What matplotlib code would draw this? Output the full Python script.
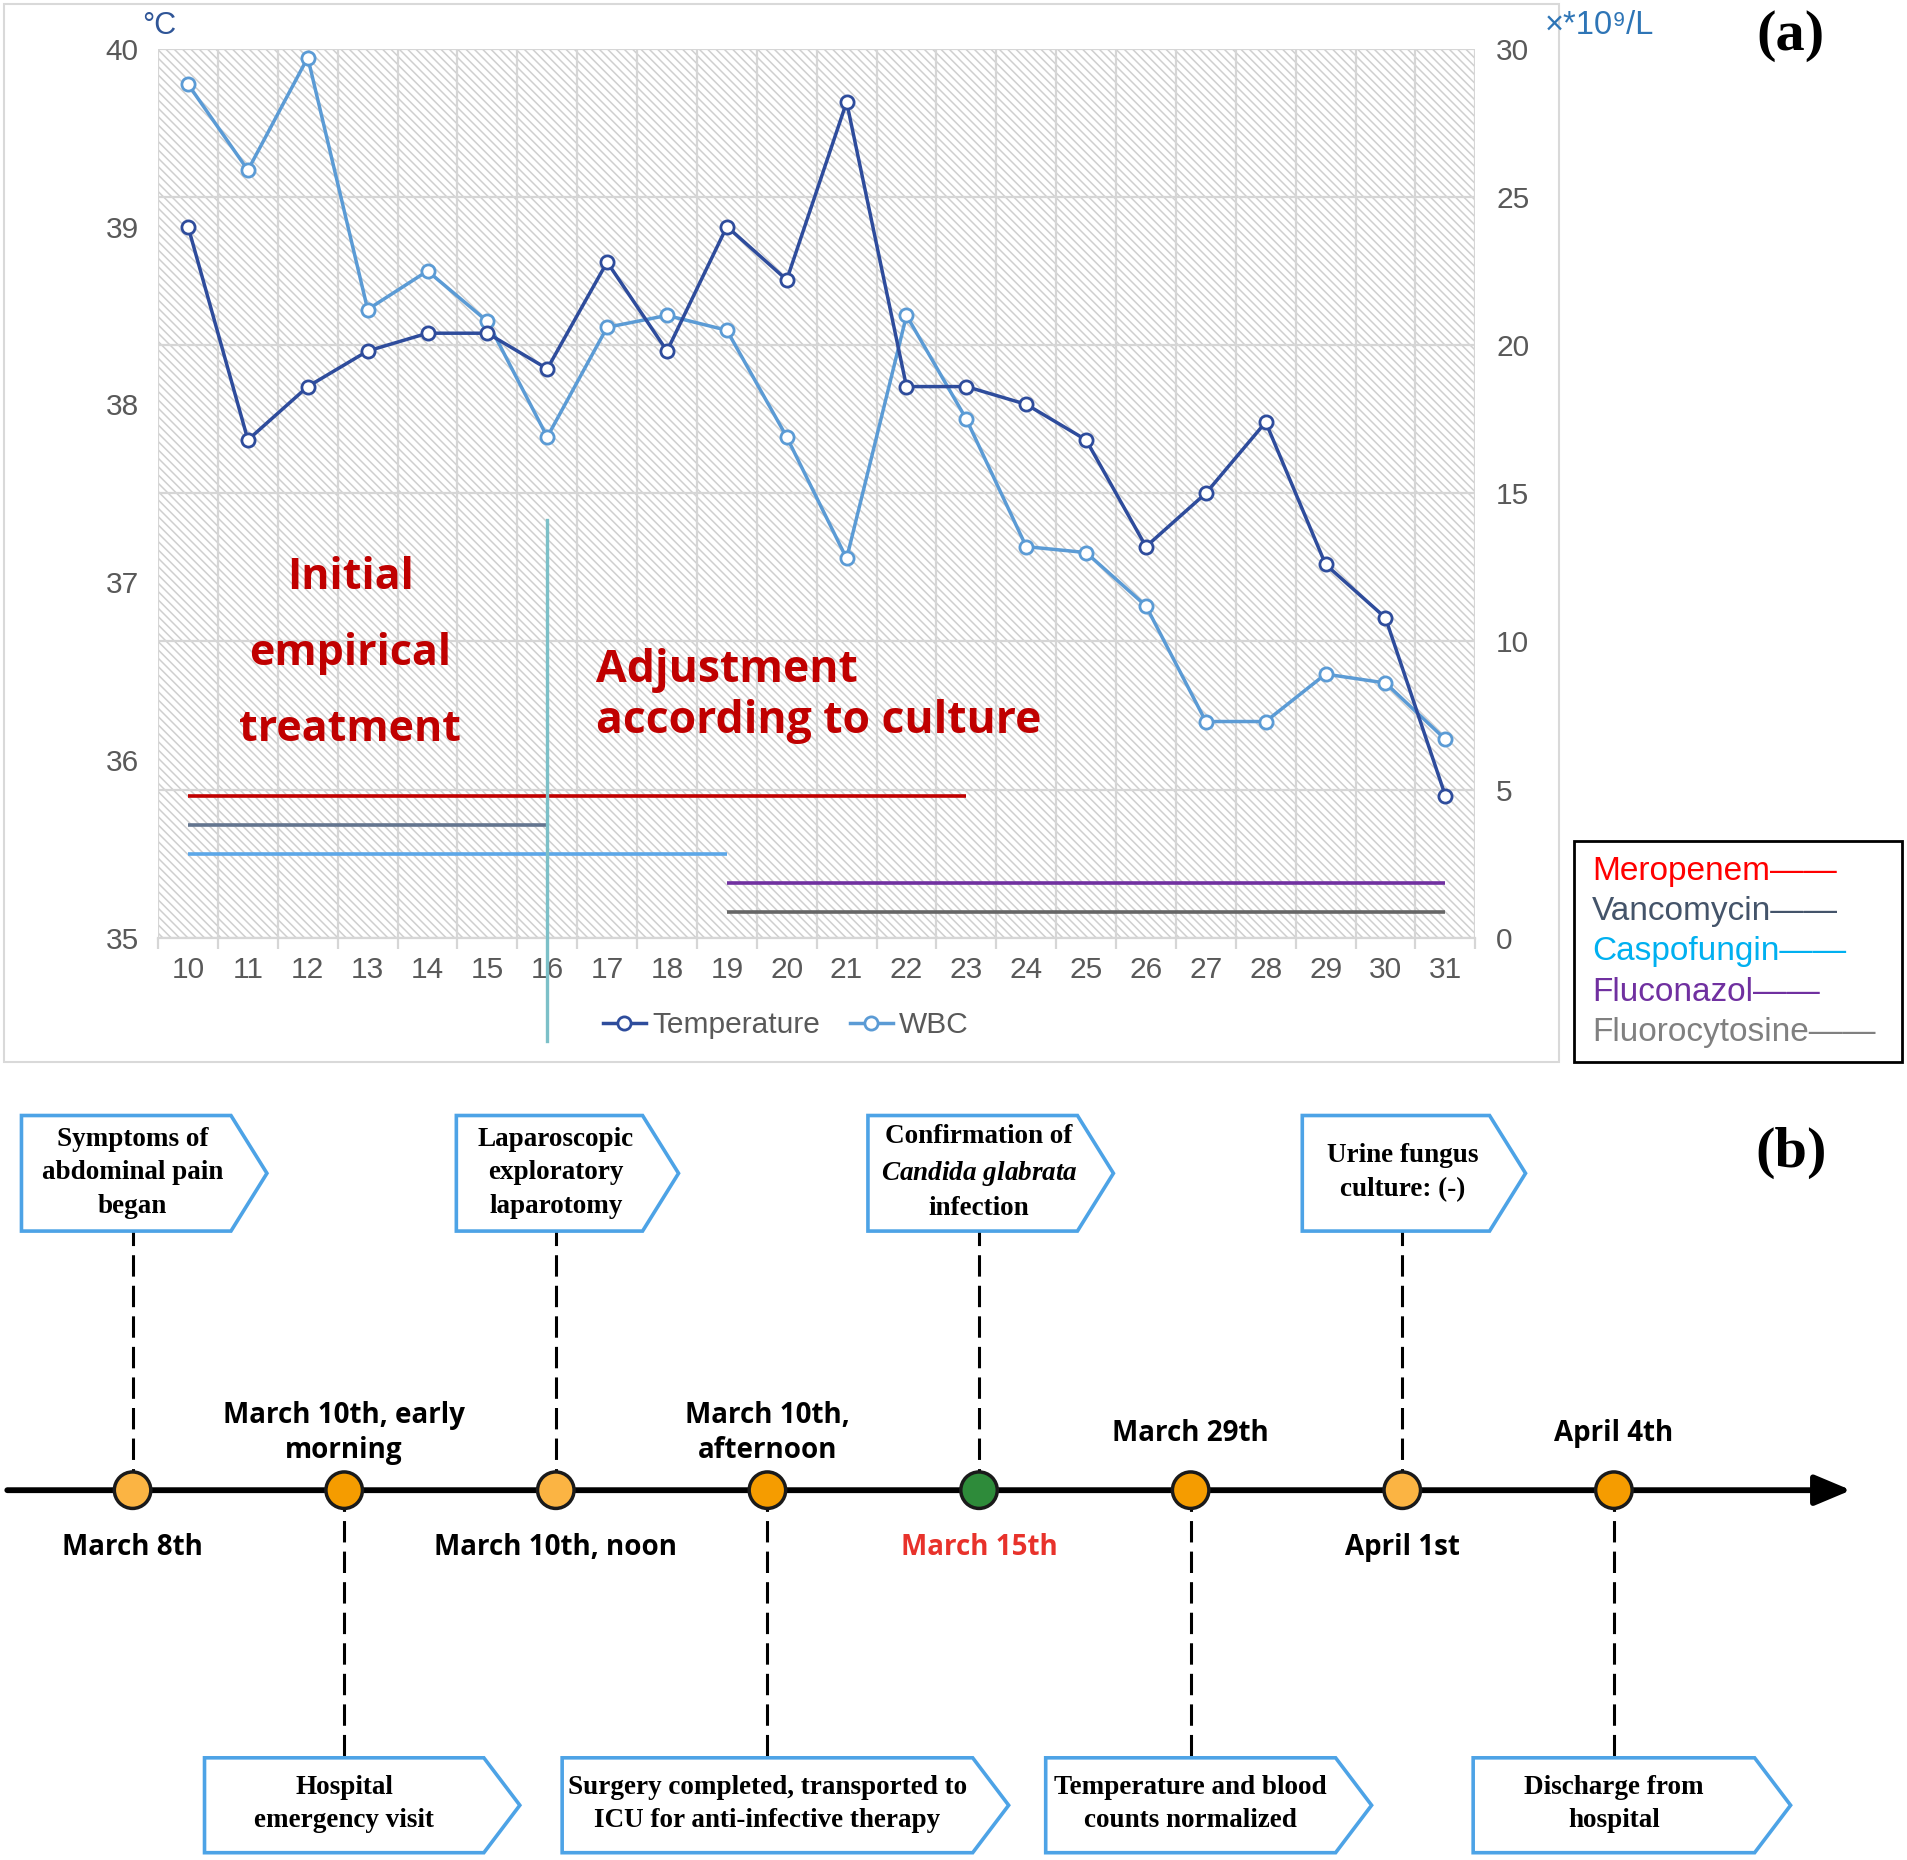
import numpy as np
import matplotlib
matplotlib.use("Agg")
import matplotlib.pyplot as plt
from matplotlib.patches import Rectangle, Polygon

plt.rcParams['font.family'] = ['Liberation Sans', 'DejaVu Sans']
plt.rcParams['hatch.linewidth'] = 1.1
plt.rcParams['hatch.color'] = '#CFCFCF'
plt.rcParams['mathtext.fontset'] = 'custom'
plt.rcParams['mathtext.rm'] = 'Liberation Serif:bold'
plt.rcParams['mathtext.it'] = 'Liberation Serif:italic:bold'

# ---------------- panel (a) data
days = list(range(10, 32))
temperature = [39.0, 37.8, 38.1, 38.3, 38.4, 38.4, 38.2, 38.8, 38.3, 39.0, 38.7,
               39.7, 38.1, 38.1, 38.0, 37.8, 37.2, 37.5, 37.9, 37.1, 36.8, 35.8]
wbc = [28.8, 25.9, 29.7, 21.2, 22.5, 20.8, 16.9, 20.6, 21.0, 20.5, 16.9,
       12.8, 21.0, 17.5, 13.2, 13.0, 11.2, 7.3, 7.3, 8.9, 8.6, 6.7]

drugs = ['Meropenem', 'Vancomycin', 'Caspofungin', 'Fluconazol', 'Fluorocytosine']
drug_start = [10, 10, 10, 19, 19]
drug_end = [23, 16, 19, 31, 31]
switch_day = 16

# ---------------- panel (b) data
dates = ['March 8th', 'March 10th, early\nmorning', 'March 10th, noon',
         'March 10th,\nafternoon', 'March 15th', 'March 29th', 'April 1st', 'April 4th']
events = ['Symptoms of\nabdominal pain\nbegan',
          'Hospital\nemergency visit',
          'Laparoscopic\nexploratory\nlaparotomy',
          'Surgery completed, transported to\nICU for anti-infective therapy',
          'Confirmation of\n$Candida\\ glabrata$\ninfection',
          'Temperature and blood\ncounts normalized',
          'Urine fungus\nculture: (-)',
          'Discharge from\nhospital']

# styles
drug_line_colors = ['#C00000', '#63758F', '#5CA7E8', '#7030A0', '#666666']
drug_text_colors = ['#FF0000', '#44546A', '#00B0F0', '#7030A0', '#808080']
circle_colors = ['#FBB443', '#F59C00', '#FBB443', '#F59C00', '#2E8B3A', '#F59C00', '#FBB443', '#F59C00']
date_colors = ['black'] * 4 + ['#E8322B'] + ['black'] * 3
box_w = [0.99, 1.32, 0.88, 1.94, 0.99, 1.37, 0.885, 1.33]
grey_txt = '#595959'
grid_c = '#D6D6D6'

fig = plt.figure(figsize=(19.07, 18.60), dpi=100)


def fx(x):
    return x / 1568


def fy(y):
    return 1 - y / 1529


# ================= (a) =================
ax = fig.add_axes([fx(130), fy(771), fx(1213) - fx(130), fy(40) - fy(771)])
ax_r = ax.twinx()
ax.set_zorder(ax_r.get_zorder() + 1)
ax.patch.set_visible(False)

bg = Rectangle((0, 0), 1, 1, transform=ax_r.transAxes, facecolor='white',
               edgecolor='#CFCFCF', hatch='\\\\\\\\', lw=0, zorder=0)
ax_r.add_patch(bg)
edges = np.arange(days[0] - 0.5, days[-1] + 1)
for e in edges:
    ax_r.axvline(e, color=grid_c, lw=1.6, zorder=1)
ax_r.set_yticks(range(0, 31, 5))
ax_r.grid(axis='y', color=grid_c, lw=1.6)

ax_r.plot(days, wbc, color='#5B9BD5', lw=2.5, marker='o', ms=9.5, mfc='white',
          mew=2, zorder=3)
ax.plot(days, temperature, color='#2E4C9C', lw=2.5, marker='o', ms=9.5, mfc='white',
        mew=2, zorder=3)

for i, (s, e) in enumerate(zip(drug_start, drug_end)):
    level = 35.8 - 0.163 * i
    ax.plot([s, e], [level, level], color=drug_line_colors[i], lw=2.6,
            solid_capstyle='butt', zorder=2)

ax.plot([switch_day, switch_day], [37.35, 34.42], color='#7CC0C8', lw=2.4,
        clip_on=False, zorder=4)

ax.text(12.71, 36.60, 'Initial\nempirical\ntreatment', ha='center', va='center',
        color='#C00000', fontsize=31, fontweight='bold', family='Open Sans',
        linespacing=2.0)
ax.text(16.81, 36.36, 'Adjustment\naccording to culture', ha='left', va='center',
        color='#C00000', fontsize=32, fontweight='bold', family='Open Sans',
        linespacing=1.2)

ax.set_xlim(days[0] - 0.5, days[-1] + 0.5)
ax.set_ylim(35, 40)
ax_r.set_ylim(0, 30)
ax.set_yticks(range(35, 41))

for a in (ax, ax_r):
    for sp in a.spines.values():
        sp.set_visible(False)
ax.spines['bottom'].set_visible(True)
ax.spines['bottom'].set_color(grid_c)
ax.spines['bottom'].set_linewidth(1.6)

ax.set_xticks(days)
ax.set_xticks(edges, minor=True)
ax.tick_params(axis='x', which='major', length=0, pad=13, labelsize=21.5, labelcolor=grey_txt)
ax.tick_params(axis='x', which='minor', length=8, width=1.6, color=grid_c)
ax.tick_params(axis='y', length=0, pad=14, labelsize=21.5, labelcolor=grey_txt)
ax_r.tick_params(axis='y', length=0, pad=15, labelsize=21.5, labelcolor=grey_txt)

fig.text(fx(117), fy(21), '°C', color='#2F5597', fontsize=22, va='center')
fig.text(fx(1270), fy(21), '×*10⁹/L', color='#2E75B6', fontsize=23.5, va='center')

# line legend
h_t = plt.Line2D([], [], color='#2E4C9C', lw=2.5, marker='o', ms=9.5, mfc='white', mew=2)
h_w = plt.Line2D([], [], color='#5B9BD5', lw=2.5, marker='o', ms=9.5, mfc='white', mew=2)
leg = fig.legend([h_t, h_w], ['Temperature', 'WBC'], loc='center',
                 bbox_to_anchor=(fx(646), fy(843)), ncol=2, frameon=False,
                 fontsize=21.5, handlelength=1.45, handletextpad=0.2,
                 columnspacing=1.0, numpoints=1)
for t in leg.get_texts():
    t.set_color(grey_txt)

# frame of panel (a)
fig.add_artist(Rectangle((fx(3), fy(873)), fx(1282) - fx(3), fy(3) - fy(873),
                         transform=fig.transFigure, fill=False, edgecolor='#D9D9D9', lw=1.5))

# drug legend box
fig.add_artist(Rectangle((fx(1294), fy(873)), fx(1564) - fx(1294), fy(691) - fy(873),
                         transform=fig.transFigure, fill=False, edgecolor='black', lw=2))
for i, name in enumerate(drugs):
    fig.text(fx(1309), fy(716 + 33.2 * i), name + '——', color=drug_text_colors[i],
             fontsize=24, va='center', ha='left')

fig.text(fx(1472), fy(30), '(a)', ha='center', va='center', family='Liberation Serif',
         fontweight='bold', fontsize=42)

# ================= (b) =================
axb = fig.add_axes([0, 0, 1, fy(872)])
axb.set_xlim(-109 / 174, (1568 - 109) / 174)
axb.set_ylim(1225 - 1529, 1225 - 872)
axb.axis('off')

axb.annotate('', xy=((1522 - 109) / 174, 0), xytext=((6 - 109) / 174, 0),
             arrowprops=dict(arrowstyle='-|>,head_length=1.0,head_width=0.42',
                             lw=4.2, color='black', mutation_scale=22,
                             shrinkA=0, shrinkB=0), zorder=2)

idx = np.arange(len(dates))
for i in idx:
    top = (i % 2 == 0)
    if top:
        y0, y1, ytxt, ydate = 213, 308, 261, -47
        axb.plot([i, i], [0, y0], color='black', lw=2.2, ls=(0, (7, 3)), zorder=1)
        xc = i - 0.03
    else:
        y0, y1, ytxt, ydate = -298, -220, -258, 47
        axb.plot([i, i], [0, y1], color='black', lw=2.2, ls=(0, (7, 3)), zorder=1)
        xc = i
    w = box_w[i]
    tip = 0.17
    pts = [(xc - w / 2, y0), (xc + w / 2, y0), (xc + w / 2 + tip, (y0 + y1) / 2),
           (xc + w / 2, y1), (xc - w / 2, y1)]
    axb.add_patch(Polygon(pts, closed=True, facecolor='white', edgecolor='#4DA3E6',
                          lw=2.6, zorder=3))
    axb.text(i, ytxt, events[i], ha='center', va='center', family='Liberation Serif',
             fontweight='bold', fontsize=19.5, linespacing=1.45, zorder=4)
    axb.text(i, ydate, dates[i], ha='center', va='center', family='Open Sans',
             fontweight='bold', fontsize=20, color=date_colors[i], linespacing=1.26)

axb.scatter(idx, np.zeros(len(idx)), s=690, c=circle_colors, edgecolors='#1A1A1A',
            linewidths=2.5, zorder=5)

fig.text(fx(1473), fy(948), '(b)', ha='center', va='center', family='Liberation Serif',
         fontweight='bold', fontsize=42)

fig.savefig('out.png', dpi=100)
